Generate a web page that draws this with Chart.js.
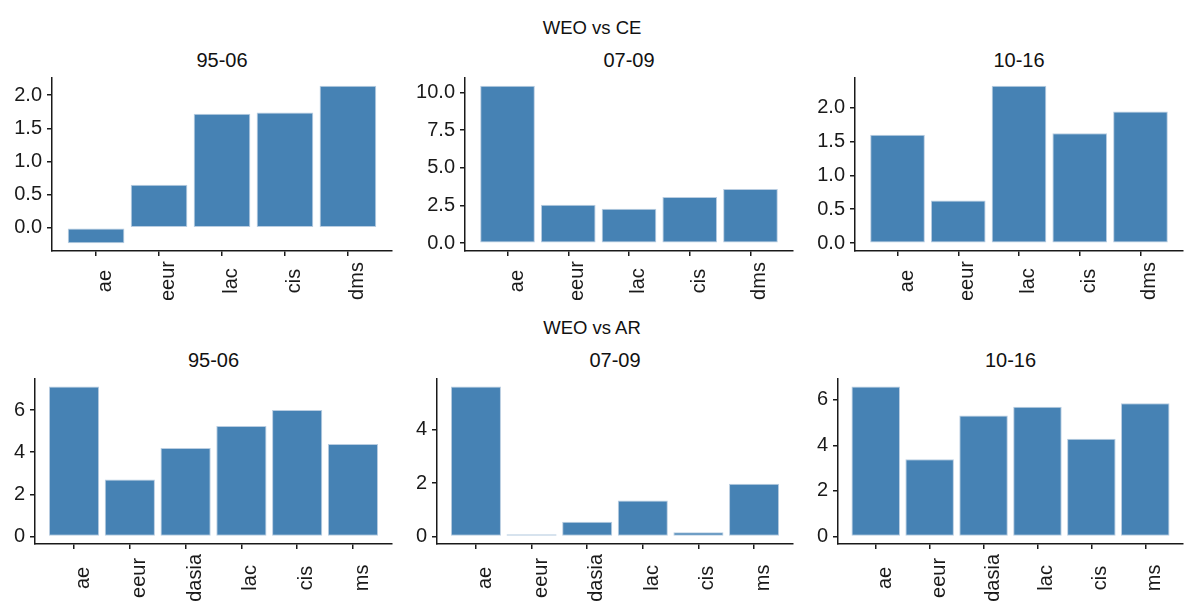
<!DOCTYPE html>
<html>
<head>
<meta charset="utf-8">
<script src="https://cdn.jsdelivr.net/npm/chart.js@4.4.1/dist/chart.umd.min.js"></script>
<style>
  body { margin: 0; width: 1184px; height: 601px; background: #fff; position: relative; overflow: hidden;
         font-family: "Liberation Sans", Arial, sans-serif; color: #111; }
  .panel { position: absolute; }
  .txt { position: absolute; transform: translate(-50%, -50%); white-space: nowrap; }
</style>
</head>
<body>
<script>
// categories
const ceCats = ['ae', 'eeur', 'lac', 'cis', 'dms'];
const arCats = ['ae', 'eeur', 'dasia', 'lac', 'cis', 'ms'];
const periods = ['95-06', '07-09', '10-16'];

// WEO vs CE
const ce9506 = [-0.23, 0.65, 1.72, 1.74, 2.14];
const ce0709 = [10.44, 2.55, 2.28, 3.06, 3.59];
const ce1016 = [1.60, 0.63, 2.32, 1.62, 1.94];

// WEO vs AR
const ar9506 = [7.12, 2.70, 4.20, 5.24, 6.00, 4.39];
const ar0709 = [5.62, 0.08, 0.55, 1.35, 0.16, 1.98];
const ar1016 = [6.58, 3.39, 5.31, 5.69, 4.29, 5.84];

// y tick steps per panel
const ceSteps = [0.5, 2.5, 0.5];
const arSteps = [2, 2, 2];

const FONT = 'Liberation Sans';
const INK = '#1a1a1a';
const BAR = '#4682B4';

// page layout (pixels)
const rows = [
  { title: 'WEO vs CE', titleY: 28, subY: 60, top: 40, height: 260, areaTop: 78, axisY: 251,
    cats: ceCats, series: [ce9506, ce0709, ce1016], steps: ceSteps, dec: 1,
    panels: [{ left: 0, axis: 52, right: 392 }, { left: 395, axis: 465, right: 793 }, { left: 790, axis: 855, right: 1183 }] },
  { title: 'WEO vs AR', titleY: 328, subY: 360, top: 340, height: 261, areaTop: 379, axisY: 544,
    cats: arCats, series: [ar9506, ar0709, ar1016], steps: arSteps, dec: 0,
    panels: [{ left: 0, axis: 35, right: 392 }, { left: 395, axis: 437, right: 793 }, { left: 790, axis: 838, right: 1183 }] },
];

// rotated x labels, centred on the longest one like ggplot's hjust = 0.5
const vertLabels = {
  id: 'vertLabels',
  afterDraw(chart) {
    const { ctx } = chart;
    const sx = chart.scales.x;
    const cats = chart.options.plugins.vertLabels.cats;
    ctx.save();
    ctx.font = `20px "${FONT}"`;
    ctx.fillStyle = INK;
    const longest = Math.max(...cats.map(c => ctx.measureText(c).width));
    const cy = sx.top + 10 + longest / 2;
    ctx.textAlign = 'center';
    ctx.textBaseline = 'alphabetic';
    cats.forEach((c, k) => {
      const x = sx.getPixelForValue(k) + 15;
      ctx.save();
      ctx.translate(x, cy);
      ctx.rotate(-Math.PI / 2);
      ctx.fillText(c, 0, 0);
      ctx.restore();
    });
    ctx.restore();
  },
};

function addText(str, x, y, size) {
  const d = document.createElement('div');
  d.className = 'txt';
  d.style.left = x + 'px';
  d.style.top = y + 'px';
  d.style.fontSize = size + 'px';
  d.textContent = str;
  document.body.appendChild(d);
}

rows.forEach(row => {
  addText(row.title, 592, row.titleY, 18.5);

  row.panels.forEach((p, i) => {
    const vals = row.series[i];
    const cats = row.cats;
    const padR = 4;
    const w = p.right - p.left + padR;
    const h = row.height;

    addText(periods[i], (p.axis + p.right) / 2, row.subY, 20);

    const div = document.createElement('div');
    div.className = 'panel';
    div.style.left = p.left + 'px';
    div.style.top = row.top + 'px';
    div.style.width = w + 'px';
    div.style.height = h + 'px';
    const cv = document.createElement('canvas');
    cv.width = w;
    cv.height = h;
    div.appendChild(cv);
    document.body.appendChild(div);

    const lo = Math.min(0, ...vals);
    const hi = Math.max(0, ...vals);
    const span = hi - lo;

    new Chart(cv, {
      type: 'bar',
      data: {
        datasets: [{
          data: vals.map((v, k) => ({ x: k, y: v })),
          backgroundColor: BAR,
          borderColor: '#b9cde1',
          borderWidth: 1,
          borderSkipped: false,
          categoryPercentage: 0.9,
          barPercentage: 1.0,
        }],
      },
      plugins: [vertLabels],
      options: {
        responsive: false,
        animation: false,
        events: [],
        layout: { padding: { left: 0, right: padR, top: row.areaTop - row.top, bottom: 0 } },
        plugins: {
          legend: { display: false },
          tooltip: { enabled: false },
          title: { display: false },
          vertLabels: { cats },
        },
        scales: {
          x: {
            type: 'linear',
            min: -0.7,
            max: cats.length - 0.3,
            offset: false,
            grid: { display: true, offset: false, drawOnChartArea: false, drawTicks: true, tickLength: 5, color: INK, lineWidth: 1.5 },
            border: { display: true, color: INK, width: 1.5 },
            ticks: {
              stepSize: 1,
              includeBounds: false,
              autoSkip: false,
              maxRotation: 0,
              color: 'rgba(0,0,0,0)',
              font: { family: FONT, size: 20 },
              callback: () => '',
            },
            afterFit: s => { s.height = h - (row.axisY - row.top); },
          },
          y: {
            min: lo - 0.05 * span,
            max: hi + 0.05 * span,
            grid: { display: true, drawOnChartArea: false, drawTicks: true, tickLength: 5, color: INK, lineWidth: 1.5 },
            border: { display: true, color: INK, width: 1.5 },
            ticks: {
              stepSize: row.steps[i],
              includeBounds: false,
              padding: 5,
              color: INK,
              font: { family: FONT, size: 20 },
              callback: v => Number(v).toFixed(row.dec),
            },
            afterFit: s => { s.width = p.axis - p.left; },
          },
        },
      },
    });
  });
});
</script>
</body>
</html>
